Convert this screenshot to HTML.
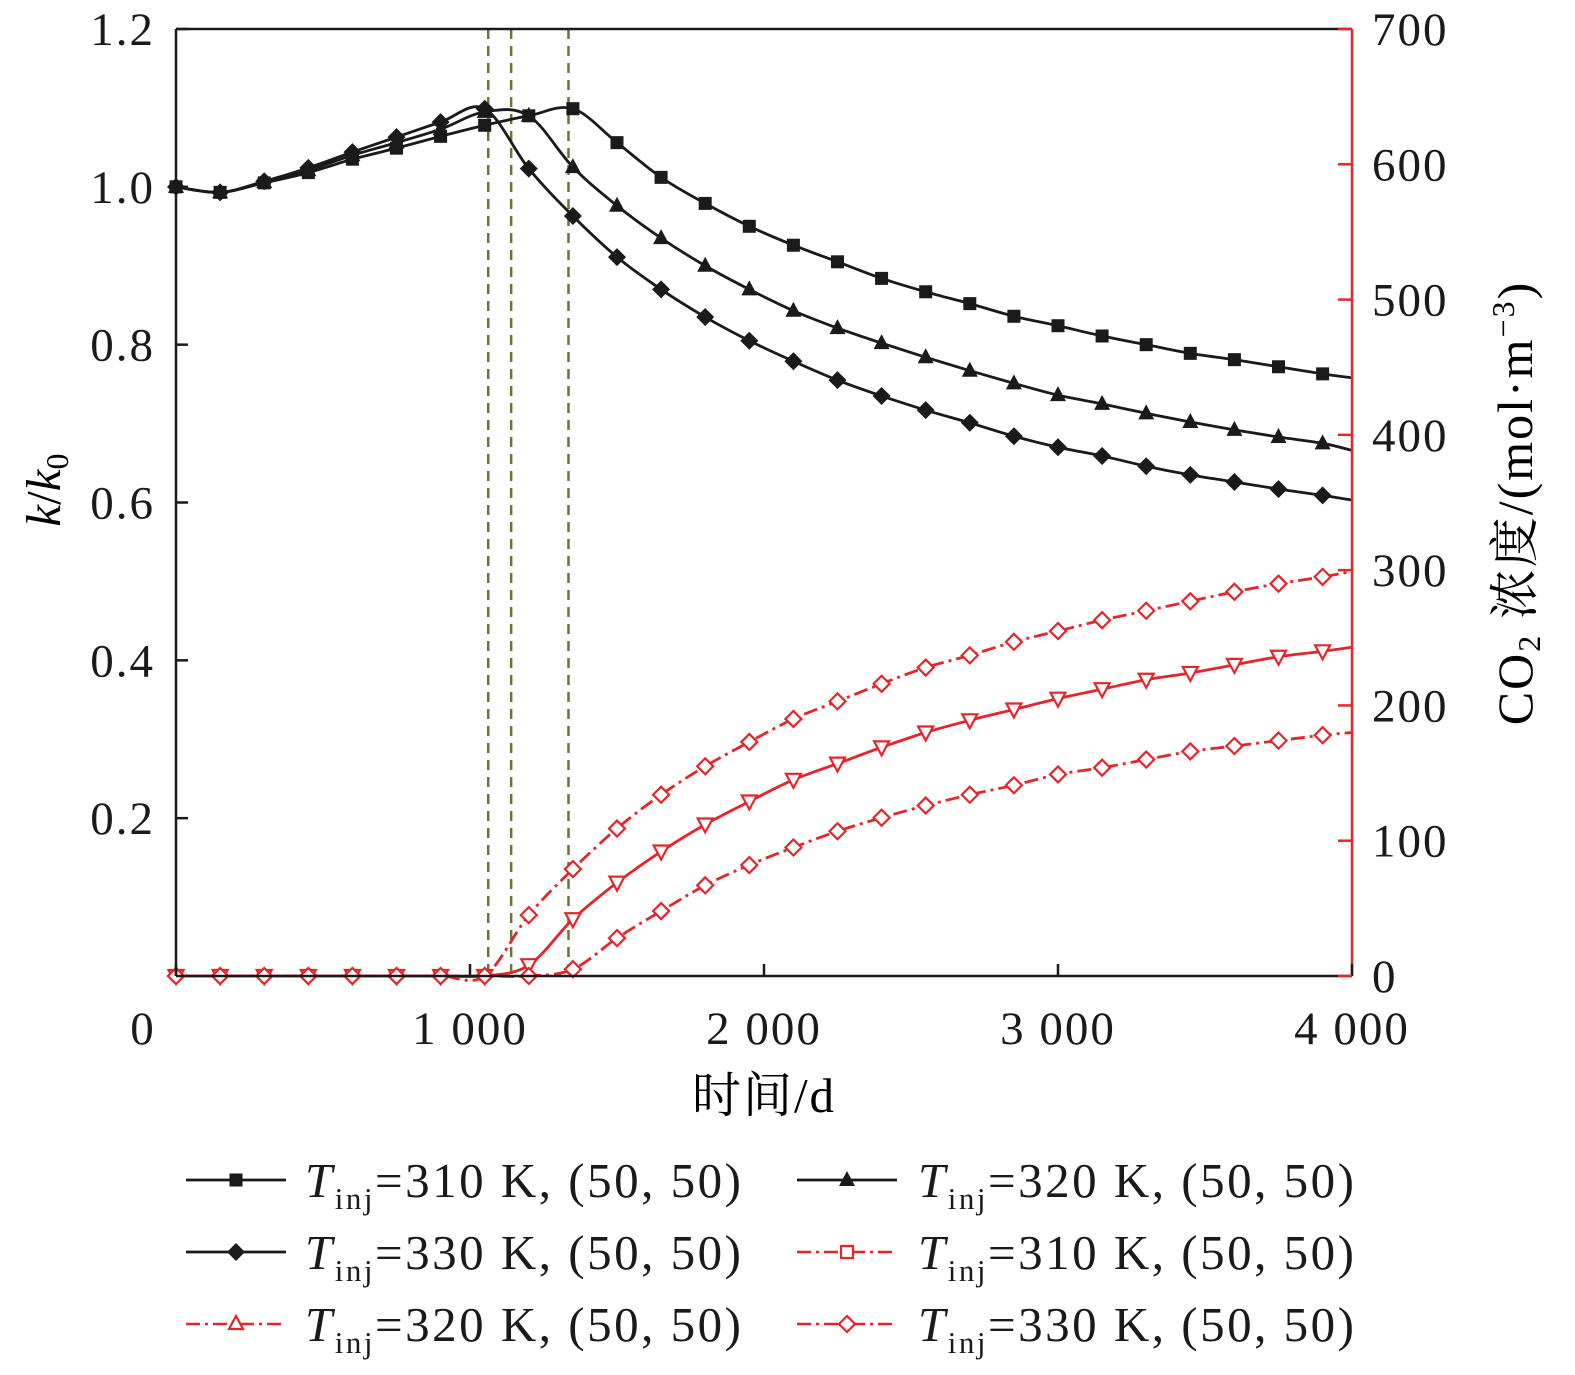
<!DOCTYPE html>
<html><head><meta charset="utf-8"><style>
html,body{margin:0;background:#fff;overflow:hidden;width:1575px;height:1375px}
svg{display:block;position:absolute;left:0;top:0;font-family:"Liberation Serif","Noto Serif CJK SC",serif}
</style></head><body>
<svg id="chart" width="1575" height="1375" viewBox="0 0 1575 1375" xmlns="http://www.w3.org/2000/svg">
<g id="plot"></g>
</svg>
<script>
const times=[0,150,300,450,600,750,900,1050,1200,1350,1500,1650,1800,1950,2100,2250,2400,2550,2700,2850,3000,3150,3300,3450,3600,3750,3900,4000];
const k310=[1.0,0.993,1.005,1.018,1.035,1.049,1.064,1.078,1.090,1.099,1.056,1.012,0.979,0.950,0.926,0.905,0.884,0.867,0.852,0.836,0.824,0.811,0.800,0.789,0.781,0.772,0.763,0.758];
const k320=[1.0,0.993,1.006,1.021,1.040,1.056,1.073,1.095,1.090,1.025,0.976,0.935,0.900,0.870,0.843,0.821,0.802,0.784,0.767,0.751,0.736,0.725,0.713,0.702,0.692,0.683,0.675,0.666];
const k330=[1.0,0.993,1.007,1.024,1.044,1.063,1.082,1.099,1.023,0.963,0.911,0.870,0.835,0.805,0.779,0.755,0.735,0.717,0.701,0.684,0.670,0.659,0.646,0.635,0.626,0.617,0.609,0.603];
const c310=[0,0,0,0,0,0,0,0,45,79,109,134,155,173,190,203,216,228,237,247,255,263,270,277,284,290,295,299];
const c320=[0,0,0,0,0,0,0,0,8,42,69,92,112,129,145,157,169,180,189,197,205,212,219,224,230,236,240,243];
const c330=[0,0,0,0,0,0,0,0,0,5,28,48,67,82,95,107,117,126,134,141,149,154,160,166,170,174,178,180];
const breakthrough=[1062,1140,1335];
const xTicks=[0,1000,2000,3000,4000];
const xTickLabels=["0","1 000","2 000","3 000","4 000"];
const yTicks=[0.2,0.4,0.6,0.8,1.0,1.2];
const yTickLabels=["0.2","0.4","0.6","0.8","1.0","1.2"];
const y2Ticks=[0,100,200,300,400,500,600,700];

const L=176,R=1352,T=29,B=976;
const X=t=>L+(t/4000)*(R-L);
const Y=v=>B-(v/1.2)*(B-T);
const Y2=v=>B-(v/700)*(B-T);
const NS="http://www.w3.org/2000/svg";
const g=document.getElementById('plot');
const RED="#e3262b",OLIVE="#6b7530";
function mk(tag,attrs,parent){const e=document.createElementNS(NS,tag);for(const k in attrs)e.setAttribute(k,attrs[k]);(parent||g).appendChild(e);return e;}
function smooth(pts){let d=`M${pts[0][0]},${pts[0][1]}`;for(let i=0;i<pts.length-1;i++){const p0=pts[Math.max(0,i-1)],p1=pts[i],p2=pts[i+1],p3=pts[Math.min(pts.length-1,i+2)];const c1=[p1[0]+(p2[0]-p0[0])/6,p1[1]+(p2[1]-p0[1])/6],c2=[p2[0]-(p3[0]-p1[0])/6,p2[1]-(p3[1]-p1[1])/6];d+=`C${c1[0]},${c1[1]} ${c2[0]},${c2[1]} ${p2[0]},${p2[1]}`;}return d;}
function marker(type,x,y,color,filled,parent){
  const f=filled?color:"#fff",sw=filled?0:2.2;let e;
  if(type==='square'){e=mk('rect',{x:x-6.5,y:y-6.5,width:13,height:13,fill:f,stroke:color,'stroke-width':sw},parent);}
  else if(type==='diamond'){const s=filled?9:8;e=mk('polygon',{points:`${x},${y-s} ${x+s},${y} ${x},${y+s} ${x-s},${y}`,fill:f,stroke:color,'stroke-width':sw},parent);}
  else if(type==='tri'){e=mk('polygon',{points:`${x},${y-9} ${x+8},${y+6} ${x-8},${y+6}`,fill:f,stroke:color,'stroke-width':sw},parent);}
  else {e=mk('polygon',{points:`${x-7.5},${y-6} ${x+7.5},${y-6} ${x},${y+8}`,fill:f,stroke:color,'stroke-width':sw},parent);}
  return e;
}
breakthrough.forEach(t=>{const l=mk('line',{x1:X(t),x2:X(t),y1:T,y2:B,stroke:OLIVE,'stroke-width':2.5,'stroke-dasharray':'10 7'});

});
const series=[
 {vals:k310,sc:Y,color:"#1a1a1a",m:'square',filled:true,dash:null,name:'series-k-310'},
 {vals:k320,sc:Y,color:"#1a1a1a",m:'tri',filled:true,dash:null,name:'series-k-320'},
 {vals:k330,sc:Y,color:"#1a1a1a",m:'diamond',filled:true,dash:null,name:'series-k-330'},
 {vals:c310,sc:Y2,color:RED,m:'diamond',filled:false,dash:'14 5 3 5',name:'series-co2-310'},
 {vals:c320,sc:Y2,color:RED,m:'tridown',filled:false,dash:null,name:'series-co2-320'},
 {vals:c330,sc:Y2,color:RED,m:'diamond',filled:false,dash:'14 5 3 5',name:'series-co2-330'}];
series.forEach(s=>{
 const grp=mk('g',{});
 
 
 const pts=times.map((t,i)=>[X(t),s.sc(s.vals[i])]);
 const a={d:smooth(pts),fill:'none',stroke:s.color,'stroke-width':2.8};if(s.dash)a['stroke-dasharray']=s.dash;
 const p=mk('path',a,grp);
 
 
 times.forEach((t,i)=>{if(t%150!==0)return;const m=marker(s.m,X(t),s.sc(s.vals[i]),s.color,s.filled,grp);
 
 });
});
const ax=mk('g',{});


mk('line',{x1:L,x2:R,y1:T,y2:T,stroke:'#1a1a1a','stroke-width':2.5},ax);
mk('line',{x1:L,x2:R,y1:B,y2:B,stroke:'#1a1a1a','stroke-width':2.5},ax);
mk('line',{x1:L,x2:L,y1:T,y2:B,stroke:'#1a1a1a','stroke-width':2.5},ax);
mk('line',{x1:R,x2:R,y1:T,y2:B,stroke:RED,'stroke-width':2.5},ax);
xTicks.forEach((t,i)=>{mk('line',{x1:X(t),x2:X(t),y1:B,y2:B-12,stroke:'#1a1a1a','stroke-width':2.5},ax);
 const tx=mk('text',{x:X(t)+(i===0?-33:0),y:1044,'font-size':47,'letter-spacing':2,'text-anchor':'middle',fill:'#1a1a1a'},ax);tx.textContent=xTickLabels[i];
 
 });
yTicks.forEach((v,i)=>{mk('line',{x1:L,x2:L+12,y1:Y(v),y2:Y(v),stroke:'#1a1a1a','stroke-width':2.5},ax);
 const tx=mk('text',{x:155,y:Y(v)+16,'font-size':47,'letter-spacing':2,'text-anchor':'end',fill:'#1a1a1a'},ax);tx.textContent=yTickLabels[i];
 
 });
y2Ticks.forEach(v=>{mk('line',{x1:R,x2:R-14,y1:Y2(v),y2:Y2(v),stroke:RED,'stroke-width':2.5},ax);
 const tx=mk('text',{x:1372,y:Y2(v)+16,'font-size':47,'letter-spacing':2,fill:'#1a1a1a'},ax);tx.textContent=String(v);
 
 });
</script>
<svg width="1575" height="1375">
<text x="764" y="1112" font-size="49" letter-spacing="2" text-anchor="middle" font-family="Liberation Serif,Noto Serif CJK SC,serif">时间/d</text>
<text transform="translate(60,490) rotate(-90)" font-size="49" text-anchor="middle" font-family="Liberation Serif,serif"><tspan font-style="italic">k</tspan>/<tspan font-style="italic">k</tspan><tspan font-size="32" dy="8">0</tspan></text>
<text transform="translate(1532,503) rotate(-90)" font-size="50" letter-spacing="2" text-anchor="middle" font-family="Liberation Serif,Noto Serif CJK SC,serif">CO<tspan font-size="32" dy="8">2</tspan><tspan dy="-8"> 浓度/(mol·m</tspan><tspan font-size="32" dy="-18">−3</tspan><tspan dy="18">)</tspan></text>
<g font-family="Liberation Serif,serif" font-size="49" letter-spacing="2.5" fill="#1a1a1a">
 <g><line x1="186" x2="286" y1="1180" y2="1180" stroke="#1a1a1a" stroke-width="2.8"/><rect x="229.5" y="1173.5" width="13" height="13" fill="#1a1a1a"/><text x="305" y="1197"><tspan font-style="italic">T</tspan><tspan font-size="31" dy="12">inj</tspan><tspan dy="-12">=310 K, (50, 50)</tspan></text></g>
 <g><line x1="797" x2="897" y1="1180" y2="1180" stroke="#1a1a1a" stroke-width="2.8"/><polygon points="847,1171 855,1186 839,1186" fill="#1a1a1a"/><text x="918" y="1197"><tspan font-style="italic">T</tspan><tspan font-size="31" dy="12">inj</tspan><tspan dy="-12">=320 K, (50, 50)</tspan></text></g>
 <g><line x1="186" x2="286" y1="1252" y2="1252" stroke="#1a1a1a" stroke-width="2.8"/><polygon points="236,1243 245,1252 236,1261 227,1252" fill="#1a1a1a"/><text x="305" y="1269"><tspan font-style="italic">T</tspan><tspan font-size="31" dy="12">inj</tspan><tspan dy="-12">=330 K, (50, 50)</tspan></text></g>
 <g><line x1="797" x2="897" y1="1252" y2="1252" stroke="#e3262b" stroke-width="2.5" stroke-dasharray="14 5 3 5"/><rect x="841" y="1246" width="12" height="12" fill="#fff" stroke="#e3262b" stroke-width="2.2"/><text x="918" y="1269"><tspan font-style="italic">T</tspan><tspan font-size="31" dy="12">inj</tspan><tspan dy="-12">=310 K, (50, 50)</tspan></text></g>
 <g><line x1="186" x2="286" y1="1324" y2="1324" stroke="#e3262b" stroke-width="2.5" stroke-dasharray="14 5 3 5"/><polygon points="236,1316 243,1329 229,1329" fill="#fff" stroke="#e3262b" stroke-width="2.2"/><text x="305" y="1341"><tspan font-style="italic">T</tspan><tspan font-size="31" dy="12">inj</tspan><tspan dy="-12">=320 K, (50, 50)</tspan></text></g>
 <g><line x1="797" x2="897" y1="1324" y2="1324" stroke="#e3262b" stroke-width="2.5" stroke-dasharray="14 5 3 5"/><polygon points="847,1316 855,1324 847,1332 839,1324" fill="#fff" stroke="#e3262b" stroke-width="2.2"/><text x="918" y="1341"><tspan font-style="italic">T</tspan><tspan font-size="31" dy="12">inj</tspan><tspan dy="-12">=330 K, (50, 50)</tspan></text></g>
</g>
</svg>
</body></html>
